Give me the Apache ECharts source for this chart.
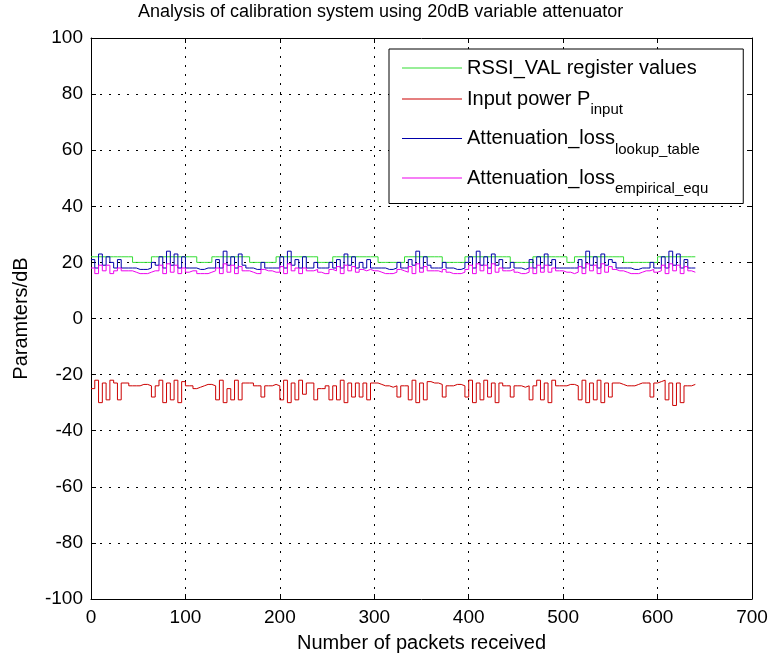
<!DOCTYPE html>
<html>
<head>
<meta charset="utf-8">
<script src="https://cdn.jsdelivr.net/npm/echarts@6/dist/echarts.min.js"></script>
<style>
  html, body { margin: 0; padding: 0; background: #fff; }
  #main { width: 769px; height: 661px; }
</style>
</head>
<body>
<div id="main"></div>
<script>
// packet number of each sample
var packets = [
  0, 4, 8, 12, 16, 20, 24, 28, 32, 36,
  40, 44, 48, 52, 56, 60, 64, 68, 72, 76,
  80, 84, 88, 92, 96, 100, 104, 108, 112, 116,
  120, 124, 128, 132, 136, 140, 144, 148, 152, 156,
  160, 164, 168, 172, 176, 180, 184, 188, 192, 196,
  200, 204, 208, 212, 216, 220, 224, 228, 232, 236,
  240, 244, 248, 252, 256, 260, 264, 268, 272, 276,
  280, 284, 288, 292, 296, 300, 304, 308, 312, 316,
  320, 324, 328, 332, 336, 340, 344, 348, 352, 356,
  360, 364, 368, 372, 376, 380, 384, 388, 392, 396,
  400, 404, 408, 412, 416, 420, 424, 428, 432, 436,
  440, 444, 448, 452, 456, 460, 464, 468, 472, 476,
  480, 484, 488, 492, 496, 500, 504, 508, 512, 516,
  520, 524, 528, 532, 536, 540, 544, 548, 552, 556,
  560, 564, 568, 572, 576, 580, 584, 588, 592, 596,
  600, 604, 608, 612, 616, 620, 624, 628, 632, 636,
  640
];

var rssiVal = [
  22, 22, 22, 22, 22, 22, 22, 22, 22, 22,
  22, 20, 20, 20, 20, 20, 22, 22, 22, 22,
  22, 22, 22, 22, 22, 22, 22, 22, 20, 20,
  20, 20, 22, 22, 22, 22, 22, 22, 22, 22,
  22, 22, 20, 20, 20, 20, 20, 20, 20, 22,
  22, 22, 22, 22, 22, 22, 22, 22, 22, 22,
  20, 20, 20, 20, 22, 22, 22, 22, 22, 22,
  22, 22, 22, 22, 22, 22, 20, 20, 20, 20,
  20, 20, 20, 22, 22, 22, 22, 22, 22, 22,
  22, 22, 22, 20, 20, 20, 20, 20, 20, 22,
  22, 22, 22, 22, 22, 22, 22, 22, 22, 22,
  22, 20, 20, 20, 20, 20, 20, 22, 22, 22,
  22, 22, 22, 22, 22, 22, 20, 20, 22, 22,
  22, 22, 22, 22, 22, 22, 22, 22, 22, 22,
  22, 20, 20, 20, 20, 20, 20, 20, 20, 20,
  22, 22, 22, 22, 22, 22, 22, 22, 22, 22,
  22
];

var inputPower = [
  -25, -22, -30, -23, -29, -22, -23, -29, -23, -23,
  -24, -24, -24, -23.5, -23.5, -24, -28, -24, -22, -30,
  -23, -29, -22, -30, -22.5, -24, -24, -25, -24.5, -24,
  -23.5, -23.5, -24, -29, -22, -30, -25, -29, -22, -29,
  -23, -23, -23, -24, -24, -28, -24, -24, -23.5, -24,
  -29, -22, -30, -23, -29, -22, -27, -23, -23, -29,
  -25, -25, -24, -29, -24, -29, -22, -30, -23, -28,
  -23, -28, -23, -29, -23, -23, -23.5, -24, -24, -24.5,
  -24, -28, -24, -24, -29, -22, -30, -23, -29, -22.5,
  -23, -23, -23.5, -28, -24, -24, -23.5, -23.5, -24, -28,
  -22, -30, -23, -29, -22, -28, -23, -30, -23, -24,
  -24, -28, -24, -24, -24.5, -24, -29, -24, -22, -29,
  -23, -30, -22, -24, -24, -24, -23.5, -23.5, -24, -29,
  -22, -30, -23, -29, -22, -30, -23, -28, -23, -23,
  -23.5, -24, -24, -24, -23.5, -23, -23, -23, -28, -23,
  -22.5, -22, -29, -23, -31, -23, -30, -24, -24, -23.5,
  -23.5
];

var lossLookup = [
  21, 18, 23, 19, 22, 20, 18, 21, 18, 18,
  18, 18, 17.5, 17.5, 17.5, 18, 20, 19, 22, 18,
  24, 19, 23, 18, 22, 18, 18, 18, 17.5, 17.5,
  18, 18, 18, 21, 18, 24, 19, 22, 18, 23,
  19, 18, 18, 17.5, 17.5, 20, 18, 18, 18, 18,
  22, 18, 24, 19, 21, 18, 22, 18, 18, 20,
  18, 18, 18, 20, 18, 21, 18, 23, 19, 22,
  18, 20, 18, 21, 18, 18, 18, 18, 17.5, 17.5,
  18, 20, 18, 18, 21, 19, 24, 18, 22, 19,
  18, 18, 18, 20, 18, 18, 17.5, 17.5, 18, 20,
  22, 18, 24, 19, 22, 18, 23, 19, 21, 18,
  18, 20, 18, 18, 17.5, 18, 21, 18, 22, 18,
  23, 19, 21, 18, 18, 18, 18, 18, 18, 21,
  18, 24, 19, 22, 18, 23, 19, 21, 20, 18,
  18, 18, 18, 17.5, 17.5, 18, 18, 18, 20, 18,
  18, 22, 18, 24, 19, 23, 18, 21, 18, 18,
  18
];

var lossEmpirical = [
  18, 16, 19, 17, 19, 16, 17, 18, 17, 17,
  17, 16.5, 16, 16, 16, 16.5, 17, 17, 19, 16,
  19.5, 16.5, 19, 16, 18, 16.5, 17, 17, 16, 16,
  16, 16.5, 17, 18, 16, 19.5, 16.5, 19, 16, 18.5,
  17, 17, 16.5, 16, 16, 17.5, 17, 17, 16.5, 16.5,
  18.5, 16, 19.5, 17, 18, 16, 18, 17, 17, 17.5,
  16.5, 16, 16, 17.5, 17, 18.5, 16, 19, 17, 18.5,
  16.5, 17.5, 17, 17.5, 17, 17, 16.5, 16, 16, 16,
  16.5, 17.5, 17, 16.5, 18.5, 16, 19.5, 16.5, 18.5, 17,
  17, 17, 16.5, 17.5, 16.5, 16, 16, 16, 16.5, 17.5,
  19, 16, 19.5, 17, 19, 16, 19.5, 16.5, 18, 17,
  17, 17.5, 16.5, 16, 16, 16.5, 18, 16, 19, 16.5,
  19, 16.5, 18, 17, 17, 16.5, 16.5, 16, 16.5, 18.5,
  16, 19.5, 17, 19, 16, 19.5, 16.5, 18.5, 17.5, 17,
  17, 16.5, 16, 16, 16, 16.5, 17, 17, 17.5, 16.5,
  17, 19, 16, 19.5, 17, 19, 16, 18.5, 17, 16.5,
  16.5
];

var seriesNames = ['RSSI_VAL', 'Pinput', 'lookup', 'empirical'];
var legendText = {
  'RSSI_VAL': '{a|RSSI_VAL register values}',
  'Pinput': '{a|Input power P}{s|input}',
  'lookup': '{a|Attenuation_loss}{s|lookup_table}',
  'empirical': '{a|Attenuation_loss}{s|empirical_equ}'
};

function zip(xs, ys) {
  var out = [];
  for (var i = 0; i < xs.length; i++) out.push([xs[i], ys[i]]);
  return out;
}

var FONT = 'Liberation Sans, Arial, sans-serif';

var chart = echarts.init(document.getElementById('main'));

function lineSeries(name, values, color) {
  return {
    name: name,
    type: 'line',
    data: zip(packets, values),
    step: 'end',
    symbol: 'none',
    showSymbol: false,
    lineStyle: { color: color, width: 1 },
    itemStyle: { color: color },
    emphasis: { disabled: true }
  };
}

var option = {
  animation: false,
  backgroundColor: '#fff',
  textStyle: { fontFamily: FONT },
  title: {
    text: 'Analysis of calibration system using 20dB variable attenuator',
    left: 138,
    top: 3,
    padding: 0,
    textStyle: { fontSize: 18, fontWeight: 'normal', color: '#000', fontFamily: FONT }
  },
  grid: { left: 91, right: 17, top: 38, bottom: 62, outerBoundsMode: 'none' },
  legend: {
    data: seriesNames,
    orient: 'vertical',
    left: 389,
    top: 49,
    backgroundColor: '#fff',
    borderColor: '#000',
    borderWidth: 1,
    borderRadius: 0,
    padding: [9, 35, 7, 13],
    icon: 'rect',
    itemWidth: 60,
    itemHeight: 1,
    itemGap: 11,
    selectedMode: false,
    formatter: function (name) { return legendText[name]; },
    textStyle: {
      color: '#000',
      fontFamily: FONT,
      rich: {
        a: { fontSize: 20, color: '#000', fontFamily: FONT },
        s: { fontSize: 15, color: '#000', fontFamily: FONT, padding: [22, 0, 0, 0] }
      }
    }
  },
  xAxis: [{
    type: 'value',
    min: 0, max: 700, interval: 100,
    name: 'Number of packets received',
    nameLocation: 'middle',
    nameGap: 34,
    nameTextStyle: { fontSize: 20, color: '#000', fontFamily: FONT },
    axisLine: { show: true, onZero: false, lineStyle: { color: '#000', width: 1 } },
    axisTick: { show: true, inside: true, length: 5, lineStyle: { color: '#000' } },
    axisLabel: { fontSize: 19, color: '#000', margin: 9, fontFamily: FONT },
    splitLine: { show: true, lineStyle: { color: '#000', width: 1, type: [2, 7] } }
  }, {
    type: 'value',
    position: 'top',
    min: 0, max: 700, interval: 100,
    axisLine: { show: true, onZero: false, lineStyle: { color: '#000', width: 1 } },
    axisTick: { show: true, inside: true, length: 5, lineStyle: { color: '#000' } },
    axisLabel: { show: false },
    splitLine: { show: false }
  }],
  yAxis: [{
    type: 'value',
    min: -100, max: 100, interval: 20,
    name: 'Paramters/dB',
    nameLocation: 'middle',
    nameGap: 60,
    nameTextStyle: { fontSize: 20, color: '#000', fontFamily: FONT },
    axisLine: { show: true, onZero: false, lineStyle: { color: '#000', width: 1 } },
    axisTick: { show: true, inside: true, length: 5, lineStyle: { color: '#000' } },
    axisLabel: { fontSize: 19, color: '#000', margin: 8, fontFamily: FONT },
    splitLine: { show: true, lineStyle: { color: '#000', width: 1, type: [2, 7] } }
  }, {
    type: 'value',
    position: 'right',
    min: -100, max: 100, interval: 20,
    axisLine: { show: true, onZero: false, lineStyle: { color: '#000', width: 1 } },
    axisTick: { show: true, inside: true, length: 5, lineStyle: { color: '#000' } },
    axisLabel: { show: false },
    splitLine: { show: false }
  }],
  series: [
    lineSeries('RSSI_VAL', rssiVal, '#33dd33'),
    lineSeries('Pinput', inputPower, '#cc0000'),
    lineSeries('lookup', lossLookup, '#0000aa'),
    lineSeries('empirical', lossEmpirical, '#ee00ee')
  ]
};

chart.setOption(option);
</script>
</body>
</html>
